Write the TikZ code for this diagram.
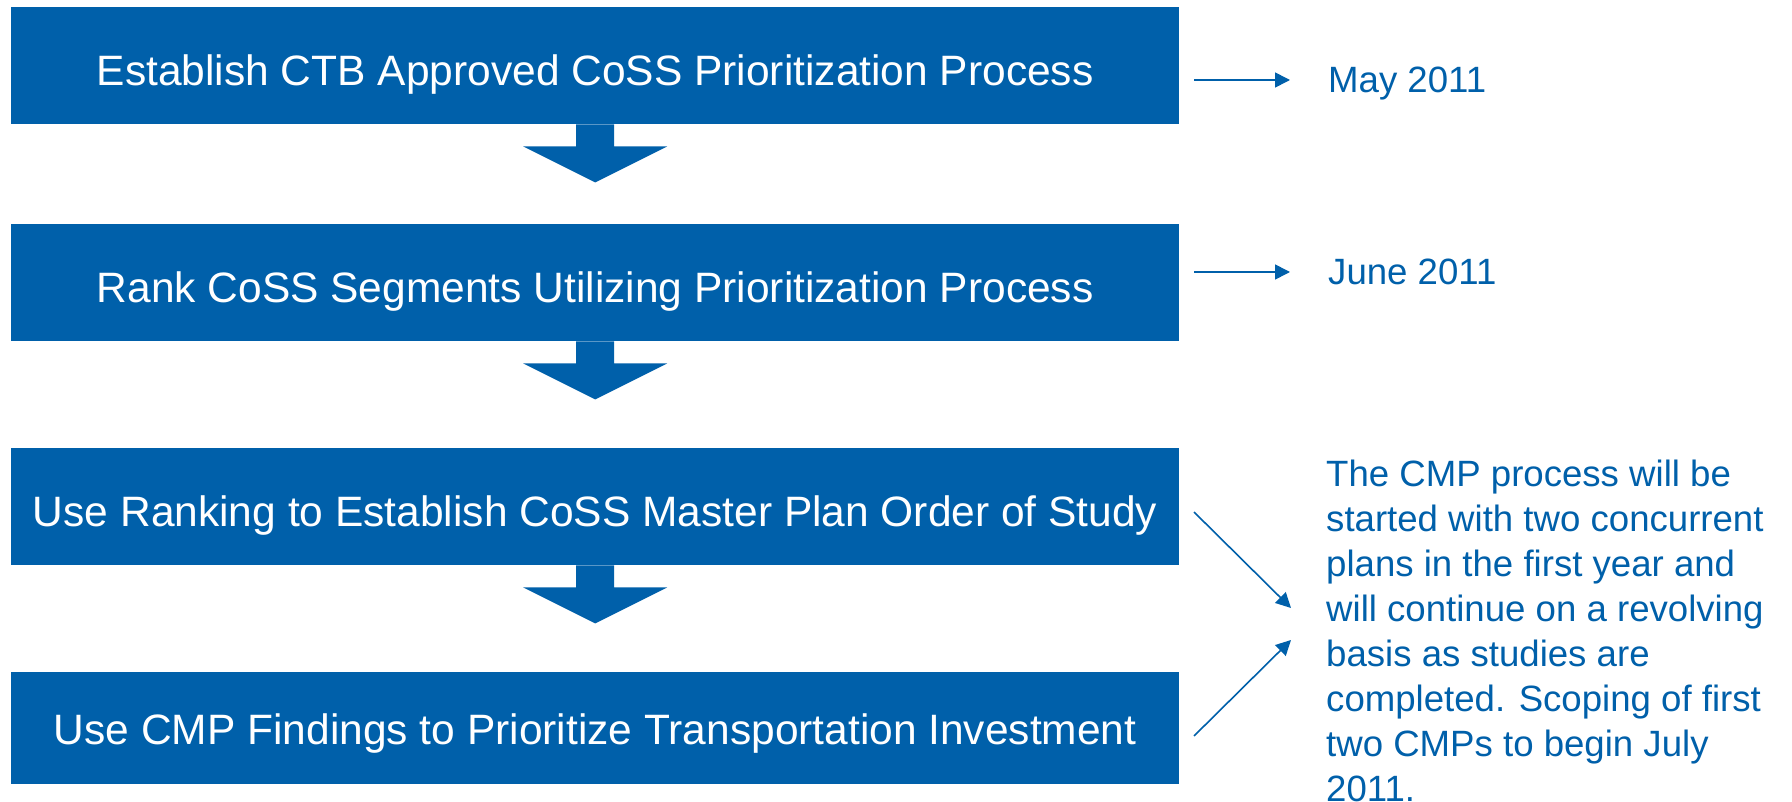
\documentclass[tikz,border=0pt]{standalone}
\usepackage{fontspec}
\setmainfont{Liberation Sans}
\usetikzlibrary{arrows.meta}
\definecolor{cblue}{RGB}{0,96,170}
\begin{document}
\begin{tikzpicture}[x=1pt,y=-1pt,
  stepbox/.style={fill=cblue, text=white, minimum width=1168pt, minimum height=117pt,
    inner sep=0pt, font=\fontsize{42.5}{50}\selectfont, text height=43pt, text depth=3pt,
    anchor=north west},
  downarrow/.style={fill=cblue},
  link/.style={draw=cblue, line width=1.6pt, -{Triangle[length=15pt,width=15pt]}},
  note/.style={text=cblue, font=\fontsize{36.6}{45}\selectfont, inner sep=0pt}]
\useasboundingbox (0,0) rectangle (1792,802);
\fill[white] (0,0) rectangle (1792,802);
% boxes
\node[stepbox] (b1) at (11,7) {Establish CTB Approved CoSS Prioritization Process};
\node[stepbox] (b2) at (11,224) {Rank CoSS Segments Utilizing Prioritization Process};
\node[stepbox] (b3) at (11,448) {Use Ranking to Establish CoSS Master Plan Order of Study};
\node[stepbox, minimum height=112pt, text height=38pt, text depth=6pt] (b4) at (11,672) {Use CMP Findings to Prioritize Transportation Investment};
% block arrows
\foreach \b in {b1,b2,b3}{
  \fill[downarrow] ([xshift=-19pt]\b.south) -- ++(0,22) -- ++(-53,0) -- ++(72,36)
    -- ++(72,-36) -- ++(-53,0) -- ([xshift=19pt]\b.south) -- cycle;
}
% dates and note
\node[note, anchor=base west] (may) at (1328,93) {May 2011};
\node[note, anchor=base west] (june) at (1328,285) {June 2011};
\node[note, anchor=north west, align=left] (cmp) at (1326,460) {The CMP process will be\\
started with two concurrent\\
plans in the first year and\\
will continue on a revolving\\
basis as studies are\\
completed. Scoping of first\\
two CMPs to begin July\\
2011.};
% connectors
\coordinate (m1) at (1194,80);
\coordinate (m2) at (1290,80);
\coordinate (j1) at (1194,272);
\coordinate (j2) at (1290,272);
\coordinate (c1) at (1194,512);
\coordinate (c2) at (1291,608);
\coordinate (d1) at (1194,736);
\coordinate (d2) at (1291,640);
\draw[link] (m1) -- (m2);
\draw[link] (j1) -- (j2);
\draw[link] (c1) -- (c2);
\draw[link] (d1) -- (d2);
\end{tikzpicture}
\end{document}
